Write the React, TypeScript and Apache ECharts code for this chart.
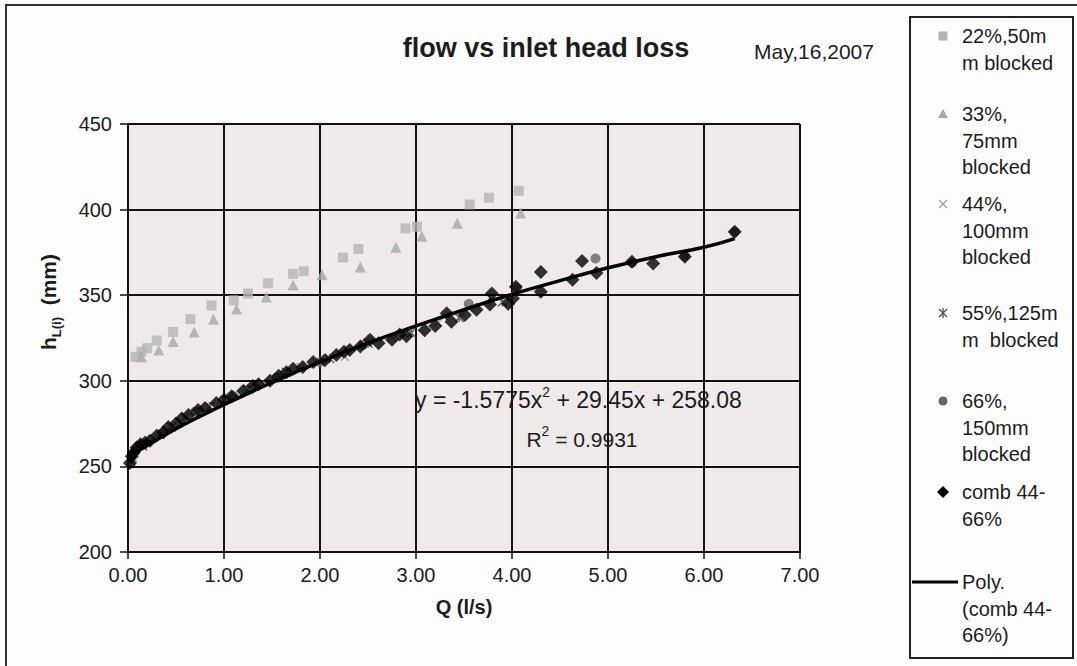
import React, { useEffect, useRef } from "react";
import * as echarts from "echarts";

const FONT = '"Liberation Sans", Arial, Helvetica, sans-serif';

const xTicks = [0, 1, 2, 3, 4, 5, 6, 7];
const yTicks = [200, 250, 300, 350, 400, 450];

// 22%, 50mm blocked
const blocked22: number[][] = [
  [0.08, 314], [0.14, 317], [0.2, 319], [0.3, 323.5], [0.47, 328.5], [0.65, 336], [0.87, 344],
  [1.1, 347], [1.25, 351], [1.46, 357], [1.72, 362.5], [1.83, 364], [2.24, 372], [2.4, 377],
  [2.89, 389], [3.01, 390], [3.56, 403], [3.76, 407], [4.07, 411],
];
// 33%, 75mm blocked
const blocked33: number[][] = [
  [0.14, 314], [0.32, 318], [0.47, 323], [0.69, 328.5], [0.89, 336], [1.13, 342], [1.44, 349],
  [1.72, 356], [2.02, 362], [2.42, 366.5], [2.79, 378], [3.06, 384.5], [3.43, 392], [4.09, 398],
];
// 44%, 100mm blocked
const blocked44: number[][] = [
  [0.05, 255], [0.25, 266], [0.6, 279], [1.0, 289], [1.4, 299], [1.8, 308], [2.26, 314],
  [2.75, 325], [3.23, 334], [3.55, 343],
];
// 55%, 125mm blocked
const blocked55: number[][] = [
  [0.03, 253], [0.15, 262], [0.45, 273], [0.85, 285], [1.25, 295], [1.65, 305], [2.1, 313],
  [2.5, 322], [2.95, 328], [3.45, 337], [3.9, 346],
];
// 66%, 150mm blocked
const blocked66: number[][] = [
  [0.07, 259], [0.35, 269], [0.7, 282], [1.1, 291], [1.55, 302], [2.0, 311], [2.45, 321],
  [3.55, 345], [4.05, 354], [4.87, 371.5], [5.25, 369], [5.8, 373], [6.32, 387],
];
// comb 44-66%
const comb: number[][] = [
  [0.02, 252], [0.04, 256], [0.06, 258], [0.09, 261], [0.13, 263], [0.18, 264], [0.23, 265],
  [0.3, 268], [0.37, 270], [0.42, 273], [0.5, 275], [0.56, 278], [0.63, 280], [0.73, 283],
  [0.8, 284], [0.92, 287], [1.0, 289], [1.08, 291], [1.2, 294], [1.3, 297], [1.36, 298],
  [1.48, 300], [1.57, 303], [1.65, 305], [1.72, 307], [1.82, 308], [1.93, 311], [2.05, 312],
  [2.17, 315], [2.25, 317], [2.31, 318], [2.42, 320], [2.52, 324], [2.61, 322], [2.75, 324],
  [2.83, 327], [2.9, 326], [3.09, 329.5], [3.2, 332], [3.32, 339.5], [3.37, 334.5],
  [3.51, 338.5], [3.63, 341.5], [3.77, 344.5], [3.79, 351], [3.96, 345], [4.01, 348],
  [4.04, 355], [4.3, 352], [4.3, 363.5], [4.63, 359], [4.73, 370], [4.88, 363], [5.25, 369.5],
  [5.47, 368.5], [5.8, 372.5], [6.32, 387],
];
// Poly. (comb 44-66%) trendline
const polyX = [0.02, 0.5, 1.0, 1.5, 2.0, 2.5, 3.0, 3.5, 4.0, 4.5, 5.0, 5.5, 6.0, 6.32];
const polyY = [256, 272, 286, 299, 311, 322, 332, 341.5, 350.5, 358.5, 366, 372.5, 378, 383];

const legendNames = [
  ["22%,50m", "m blocked"],
  ["33%,", "75mm", "blocked"],
  ["44%,", "100mm", "blocked"],
  ["55%,125m", "m  blocked"],
  ["66%,", "150mm", "blocked"],
  ["comb 44-", "66%"],
  ["Poly.", "(comb 44-", "66%)"],
];

const crossPath = "path://M0,0L10,10M10,0L0,10";
const starPath = "path://M0,0L10,10M10,0L0,10M5,0L5,10";

export default function App() {
  const ref = useRef<HTMLDivElement>(null);
  useEffect(() => {
    if (!ref.current) return;
    const chart = echarts.init(ref.current, undefined, { renderer: "svg" });
    const txt = "#1c1c1c";
    const legendX = 962;
    const legendStartY = [36, 114, 204, 313, 401, 492, 582];
    const lh = 26.5;
    const Z = 110;
    const legendTexts: any[] = [];
    legendNames.forEach((lines, i) => {
      lines.forEach((ln, j) => {
        legendTexts.push({
          type: "text",
          z: Z,
          x: legendX,
          y: legendStartY[i] + j * lh,
          style: { text: ln, fontSize: 20, fontFamily: FONT, fill: txt, verticalAlign: "middle", align: "left" },
        });
      });
    });
    const mx = 943;
    const legendMarks: any[] = [
      { type: "rect", z: Z, shape: { x: mx - 4.5, y: legendStartY[0] - 4.5, width: 9, height: 9 }, style: { fill: "#b2b2b2" } },
      { type: "polygon", z: Z, shape: { points: [[mx, legendStartY[1] - 5], [mx + 5, legendStartY[1] + 4], [mx - 5, legendStartY[1] + 4]] }, style: { fill: "#a9a9a9" } },
      { type: "line", z: Z, shape: { x1: mx - 4, y1: legendStartY[2] - 4, x2: mx + 4, y2: legendStartY[2] + 4 }, style: { stroke: "#a0a0a0", lineWidth: 1.3 } },
      { type: "line", z: Z, shape: { x1: mx + 4, y1: legendStartY[2] - 4, x2: mx - 4, y2: legendStartY[2] + 4 }, style: { stroke: "#a0a0a0", lineWidth: 1.3 } },
      { type: "line", z: Z, shape: { x1: mx - 4, y1: legendStartY[3] - 4, x2: mx + 4, y2: legendStartY[3] + 4 }, style: { stroke: "#555", lineWidth: 1.4 } },
      { type: "line", z: Z, shape: { x1: mx + 4, y1: legendStartY[3] - 4, x2: mx - 4, y2: legendStartY[3] + 4 }, style: { stroke: "#555", lineWidth: 1.4 } },
      { type: "line", z: Z, shape: { x1: mx, y1: legendStartY[3] - 5, x2: mx, y2: legendStartY[3] + 5 }, style: { stroke: "#555", lineWidth: 1.4 } },
      { type: "circle", z: Z, shape: { cx: mx, cy: legendStartY[4], r: 4.5 }, style: { fill: "#666" } },
      { type: "polygon", z: Z, shape: { points: [[mx, legendStartY[5] - 6], [mx + 6, legendStartY[5]], [mx, legendStartY[5] + 6], [mx - 6, legendStartY[5]]] }, style: { fill: "#000" } },
      { type: "line", z: Z, shape: { x1: 912, y1: legendStartY[6], x2: 958, y2: legendStartY[6] }, style: { stroke: "#000", lineWidth: 3 } },
    ];

    chart.setOption({
      animation: false,
      backgroundColor: "#fdfdfd",
      grid: {
        left: 128, top: 124, width: 672, height: 428,
        show: true, backgroundColor: "#efe9ea", borderWidth: 0,
      },
      xAxis: {
        type: "value", min: xTicks[0], max: xTicks[xTicks.length - 1], interval: 1,
        axisLine: { show: true, onZero: false, lineStyle: { color: "#111", width: 2 } },
        axisTick: { show: true, length: 7, lineStyle: { color: "#111", width: 1.5 } },
        splitLine: { show: true, lineStyle: { color: "#111", width: 2 } },
        axisLabel: { formatter: (v: number) => v.toFixed(2), fontSize: 20, color: txt, margin: 13, fontFamily: FONT },
      },
      yAxis: {
        type: "value", min: yTicks[0], max: yTicks[yTicks.length - 1], interval: 50,
        axisLine: { show: true, onZero: false, lineStyle: { color: "#111", width: 2 } },
        axisTick: { show: true, length: 8, lineStyle: { color: "#111", width: 1.5 } },
        splitLine: { show: true, lineStyle: { color: "#111", width: 2 } },
        axisLabel: { fontSize: 20, color: txt, margin: 16, fontFamily: FONT },
      },
      series: [
        { name: "22%,50mm blocked", type: "scatter", data: blocked22, symbol: "rect", symbolSize: 10, itemStyle: { color: "#b4b4b4" } },
        { name: "33%, 75mm blocked", type: "scatter", data: blocked33, symbol: "triangle", symbolSize: 11, itemStyle: { color: "#a8a8a8" } },
        { name: "44%, 100mm blocked", type: "scatter", data: blocked44, symbol: crossPath, symbolSize: 8, itemStyle: { color: "rgba(0,0,0,0)", borderColor: "#8a8a8a", borderWidth: 1.5 } },
        { name: "55%,125mm blocked", type: "scatter", data: blocked55, symbol: starPath, symbolSize: 9, itemStyle: { color: "rgba(0,0,0,0)", borderColor: "#444", borderWidth: 1.5 } },
        { name: "66%, 150mm blocked", type: "scatter", data: blocked66, symbol: "circle", symbolSize: 10, itemStyle: { color: "#666" } },
        { name: "comb 44-66%", type: "scatter", data: comb, symbol: "diamond", symbolSize: 14, itemStyle: { color: "#000" } },
        {
          name: "Poly. (comb 44-66%)", type: "line", data: polyX.map((x, i) => [x, polyY[i]]),
          smooth: true, showSymbol: false, symbol: "none", lineStyle: { color: "#000", width: 3.5 },
        },
      ],
      graphic: [
        { type: "rect", z: 100, shape: { x: 6, y: 5, width: 1200, height: 800 }, style: { fill: "none", stroke: "#333", lineWidth: 2 } },
        { type: "rect", z: 100, shape: { x: 910, y: 17, width: 163, height: 641 }, style: { fill: "#fdfdfd", stroke: "#222", lineWidth: 2 } },
        ...legendTexts,
        ...legendMarks,
        { type: "text", x: 546, y: 48, z: Z, style: { text: "flow vs inlet head loss", fontSize: 27, fontWeight: "bold", fontFamily: FONT, fill: txt, align: "center", verticalAlign: "middle" } },
        { type: "text", x: 814, y: 51, z: Z, style: { text: "May,16,2007", fontSize: 21, fontFamily: FONT, fill: txt, align: "center", verticalAlign: "middle" } },
        { type: "text", x: 464, y: 607, z: Z, style: { text: "Q (l/s)", fontSize: 20, fontWeight: "bold", fontFamily: FONT, fill: txt, align: "center", verticalAlign: "middle" } },
        {
          type: "text", x: 46, y: 302, rotation: Math.PI / 2, z: Z,
          style: {
            text: "{a|h}{b|L(i)}{a|  (mm)}", align: "center", verticalAlign: "middle", fill: txt, fontFamily: FONT,
            rich: {
              a: { fontSize: 21, fontWeight: "bold", fontFamily: FONT, fill: txt, verticalAlign: "bottom", lineHeight: 26 },
              b: { fontSize: 13, fontWeight: "bold", fontFamily: FONT, fill: txt, verticalAlign: "bottom", lineHeight: 20, padding: [0, 0, -4, 0] },
            },
          },
        },
        {
          type: "text", x: 415, y: 398, z: Z,
          style: {
            text: "{a|y = -1.5775x}{s|2}{a| + 29.45x + 258.08}", align: "left", verticalAlign: "middle", fill: txt, fontFamily: FONT,
            rich: {
              a: { fontSize: 23, fontFamily: FONT, fill: txt, verticalAlign: "bottom", lineHeight: 26 },
              s: { fontSize: 14, fontFamily: FONT, fill: txt, verticalAlign: "top", lineHeight: 24 },
            },
          },
        },
        {
          type: "text", x: 582, y: 437, z: Z,
          style: {
            text: "{a|R}{s|2}{a| = 0.9931}", align: "center", verticalAlign: "middle", fill: txt, fontFamily: FONT,
            rich: {
              a: { fontSize: 21, fontFamily: FONT, fill: txt, verticalAlign: "bottom", lineHeight: 26 },
              s: { fontSize: 14, fontFamily: FONT, fill: txt, verticalAlign: "top", lineHeight: 24 },
            },
          },
        },
      ],
    });
    return () => chart.dispose();
  }, []);
  return <div ref={ref} style={{ position: "fixed", left: 0, top: 0, width: 1077, height: 666 }} />;
}
